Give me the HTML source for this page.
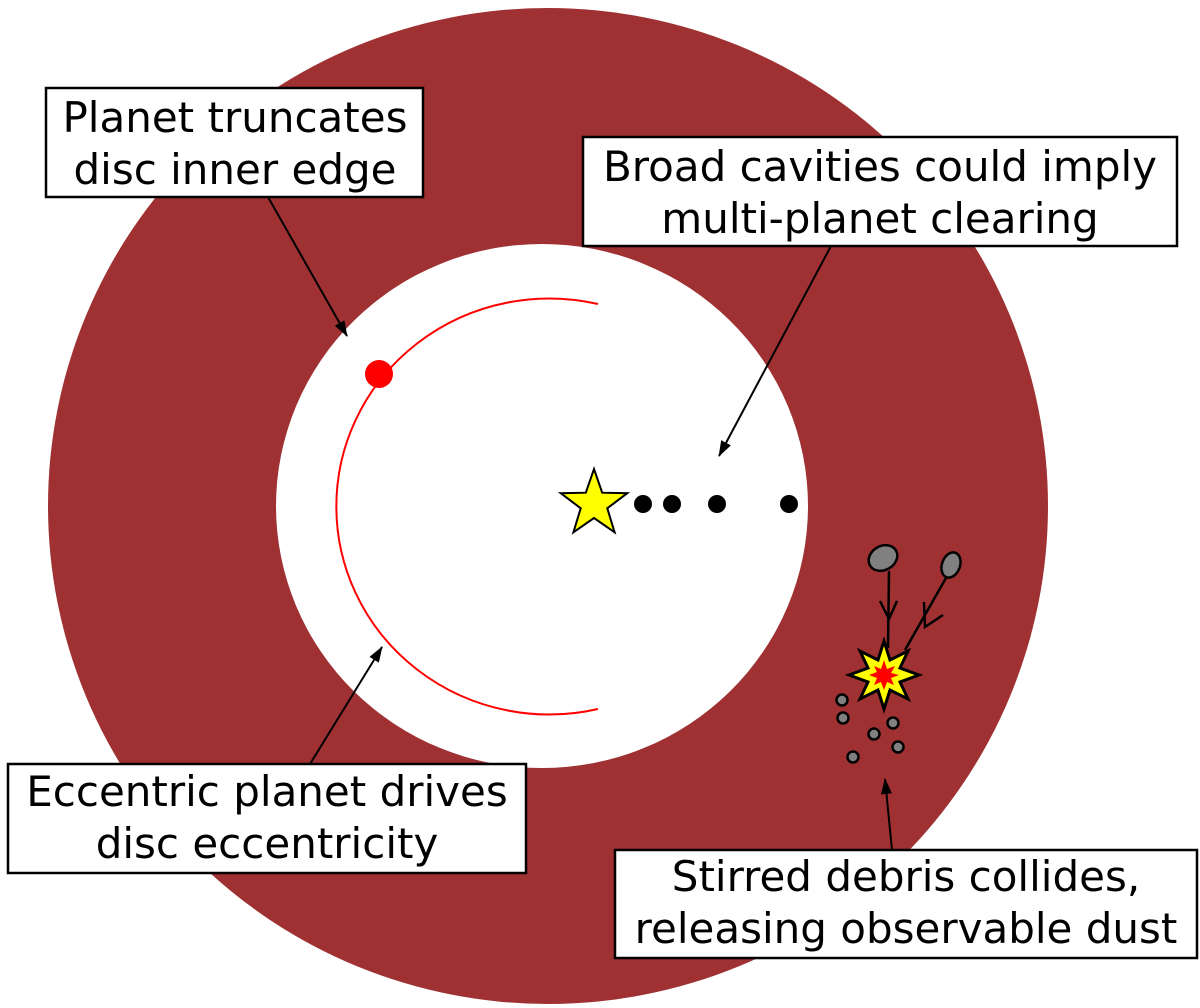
<!DOCTYPE html>
<html><head><meta charset="utf-8"><style>
html,body{margin:0;padding:0;background:#fff;}
svg{display:block;}
text{font-family:"DejaVu Sans","Liberation Sans",sans-serif;font-size:42px;fill:#000;text-anchor:middle;}
</style></head><body>
<svg width="1200" height="1008" viewBox="0 0 1200 1008" xmlns="http://www.w3.org/2000/svg">
<defs>
<marker id="ah" markerWidth="16" markerHeight="11" refX="15" refY="5.5" orient="auto" markerUnits="userSpaceOnUse" viewBox="0 0 16 11">
<path d="M0,0 L16,5.5 L0,11 Z" fill="#000"/>
</marker>
</defs>
<ellipse cx="548" cy="506" rx="500" ry="498" fill="#9f3133"/>
<ellipse cx="542" cy="506" rx="266" ry="262" fill="#fff"/>
<path d="M598,304 A213,208 0 1 0 598,709" fill="none" stroke="#f00" stroke-width="2"/>
<circle cx="379" cy="374" r="14" fill="#f00"/>
<polygon points="594,469 602.2,492.7 627.3,493.2 607.3,508.3 614.6,532.3 594,518 573.4,532.3 580.7,508.3 560.7,493.2 585.8,492.7" fill="#ff0" stroke="#000" stroke-width="2"/>
<circle cx="643" cy="504" r="9" fill="#000"/>
<circle cx="672" cy="504" r="9" fill="#000"/>
<circle cx="717" cy="504" r="9" fill="#000"/>
<circle cx="789" cy="504" r="9" fill="#000"/>
<ellipse cx="883" cy="558" rx="15" ry="12" transform="rotate(-30 883 558)" fill="#808080" stroke="#000" stroke-width="2.5"/>
<ellipse cx="951" cy="565" rx="9" ry="13" transform="rotate(20 951 565)" fill="#808080" stroke="#000" stroke-width="2.5"/>
<path d="M889,571 L888,648" stroke="#000" stroke-width="2.5" fill="none"/>
<path d="M880,601 L889,619 L897,601" stroke="#000" stroke-width="2.5" fill="none"/>
<path d="M946,578 L905,650" stroke="#000" stroke-width="2.5" fill="none"/>
<path d="M924,602 L925,627 L943,615" stroke="#000" stroke-width="2.5" fill="none"/>
<polygon points="884,641 890,660 908,651 900,668 919,675 900,682 908,699 890,690 884,709 878,690 860,699 868,682 849,675 868,668 860,651 878,660" fill="#ff0" stroke="#000" stroke-width="3"/>
<polygon points="884,660 887,669 895,666 891,673 899,675 891,678 894,685 887,682 884,690 881,682 874,685 877,678 869,675 877,672 874,666 881,669" fill="#f00"/>
<g fill="#808080" stroke="#000" stroke-width="2.5">
<circle cx="842" cy="700" r="5.5"/><circle cx="843" cy="718" r="5.5"/>
<circle cx="893" cy="723" r="5.5"/><circle cx="874" cy="734" r="5.5"/>
<circle cx="898" cy="747" r="5.5"/><circle cx="853" cy="757" r="5.5"/>
</g>
<g stroke="#000" stroke-width="2" fill="none">
<line x1="268" y1="197" x2="347" y2="336" marker-end="url(#ah)"/>
<line x1="831" y1="246" x2="719" y2="456" marker-end="url(#ah)"/>
<line x1="310" y1="764" x2="382" y2="647" marker-end="url(#ah)"/>
<line x1="892" y1="850" x2="885" y2="779" marker-end="url(#ah)"/>
</g>
<g fill="#fff" stroke="#000" stroke-width="2.5">
<rect x="46" y="88" width="377" height="109"/>
<rect x="583" y="137" width="594" height="109"/>
<rect x="8" y="764" width="518" height="109"/>
<rect x="615" y="850" width="582" height="108"/>
</g>
<text x="235" y="132">Planet truncates</text>
<text x="235" y="184">disc inner edge</text>
<text x="880" y="181">Broad cavities could imply</text>
<text x="880" y="233">multi-planet clearing</text>
<text x="267" y="806">Eccentric planet drives</text>
<text x="267" y="858">disc eccentricity</text>
<text x="906" y="891">Stirred debris collides,</text>
<text x="906" y="943">releasing observable dust</text>
</svg>
</body></html>
